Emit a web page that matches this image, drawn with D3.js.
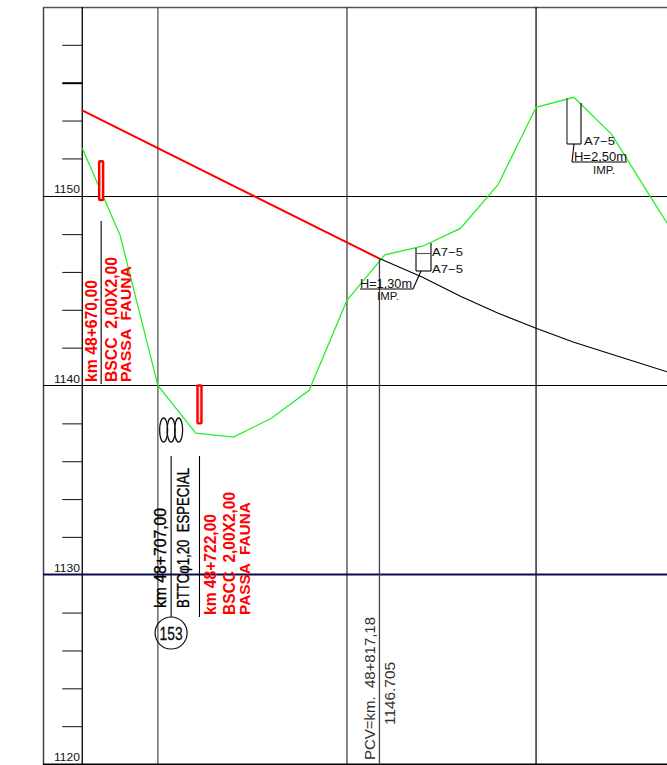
<!DOCTYPE html>
<html><head><meta charset="utf-8">
<script src="https://cdn.jsdelivr.net/npm/d3@7/dist/d3.min.js"></script>
<style>html,body{margin:0;padding:0;background:#fff;overflow:hidden}svg{display:block}
text{font-family:"Liberation Sans",sans-serif}</style></head><body>
<script>
const majorElevations=[1150,1140,1130,1120];
const minorElevations=[1158,1156,1154,1152,1148,1146,1144,1142,1138,1136,1134,1132,1128,1126,1124,1122];
const stationGrid=[660,700,800,900];
const groundKm=[660,680,700,720,740,760,780,800,808,820,840,860,880,900,920,940,960,970];
const groundElev=[1152.54,1147.94,1140,1137.48,1137.27,1138.27,1139.75,1144.5,1145.46,1146.9,1147.36,1148.3,1150.63,1154.7,1155.23,1153.27,1150.05,1148.47];
const gradeKm=[660,817.18];
const gradeElev=[1154.54,1146.705];
const curveKm=[817.18,840,860,880,900,920,940,960,970];
const curveElev=[1146.705,1145.72,1144.72,1143.82,1143.03,1142.29,1141.65,1141.02,1140.7];
const culvertKm=[670,722];
const culvertTop=[1151.85,1140];
const culvertBottom=[1149.8,1138];
const W=667,H=765;
const x=d3.scaleLinear().domain([639.4,969.3]).range([43.3,667.1]);
const y=d3.scaleLinear().domain([1120,1160]).range([764,7]);
const svg=d3.select("body").append("svg").attr("width",W).attr("height",H);
const line=(a,b)=>d3.line().x((d,i)=>x(a[i])).y((d,i)=>y(b[i]))(a);
const seg=(x1,y1,x2,y2,c="#000",w=1.1)=>svg.append("line").attr("x1",x1).attr("y1",y1).attr("x2",x2).attr("y2",y2).attr("stroke",c).attr("stroke-width",w);
// frame
seg(43.5,7,43.5,765,"#444",1.5);
seg(43,7.5,667,7.5,"#555",1.5);
// verticals
const gridColors={660:"#000",700:"#555",800:"#444",900:"#111"};
svg.selectAll(".v").data(stationGrid).join("line").attr("x1",d=>x(d)).attr("x2",d=>x(d)).attr("y1",7).attr("y2",764).attr("stroke",d=>gridColors[d]).attr("stroke-width",1.3);
// horizontal majors
svg.selectAll(".h").data(majorElevations).join("line").attr("x1",43).attr("x2",W).attr("y1",d=>Math.floor(y(d))+.5).attr("y2",d=>Math.floor(y(d))+.5)
 .attr("stroke",d=>d===1130?"#0a0a50":"#000").attr("stroke-width",d=>d===1130?1.8:d===1120?1.8:1.1);
// axis ticks
const ax=d3.axisLeft(y).tickValues(minorElevations).tickSize(20).tickFormat("");
const axG=svg.append("g").attr("transform",`translate(${x(660)},0)`).call(ax);
axG.select(".domain").remove();
axG.selectAll("line").attr("stroke",d=>d===1156?"#000":"#222").attr("stroke-width",d=>d===1156?2:1.1);
// axis labels
svg.selectAll(".lab").data(majorElevations).join("text").attr("x",54).attr("y",d=>y(d)-3).attr("font-size",11.5).attr("fill","#111")
 .attr("textLength",26).attr("lengthAdjust","spacingAndGlyphs").text(d=>d);
// ground, grade, curve
svg.append("path").attr("d",line(groundKm,groundElev)).attr("fill","none").attr("stroke","#1ff01f").attr("stroke-width",1.25);
svg.append("path").attr("d",line(curveKm,curveElev)).attr("fill","none").attr("stroke","#000").attr("stroke-width",1.1);
svg.append("path").attr("d",line(gradeKm,gradeElev)).attr("fill","none").attr("stroke","#f00").attr("stroke-width",2);
// culverts
svg.selectAll(".c").data(culvertKm).join("rect").attr("x",d=>x(d)-2).attr("width",4)
 .attr("y",(d,i)=>y(culvertTop[i])).attr("height",(d,i)=>y(culvertBottom[i])-y(culvertTop[i])).attr("rx",.8)
 .attr("fill","#fdd").attr("stroke","#f00").attr("stroke-width",2.4);
// leaders
seg(x(670),221,x(670),384);
seg(x(707),456,x(707),617);
seg(x(722),456,x(722),617);
// vertical text helper
function vt(str,bx,by,len,opt={}){
  const t=svg.append("text").attr("transform",`translate(${bx},${by}) rotate(-90)`).attr("font-size",opt.size||14)
   .attr("fill",opt.fill||"#000").attr("font-weight",opt.bold?"bold":"normal").style("white-space","pre").text(str);
  if(opt.stroke){t.attr("stroke",opt.fill||"#000").attr("stroke-width",opt.stroke);}
  if(len){t.attr("textLength",len).attr("lengthAdjust","spacingAndGlyphs");}
  return t;
}
function ht(str,bx,by,len,size=11){
  const t=svg.append("text").attr("x",bx).attr("y",by).attr("font-size",size).attr("fill","#111").style("white-space","pre").text(str);
  if(len){t.attr("textLength",len).attr("lengthAdjust","spacingAndGlyphs");}
}
const R="#f00";
vt("km 48+670,00",97,382,102,{size:16,bold:true,fill:R});
vt("BSCC  2,00X2,00",117,382,125,{size:16,bold:true,fill:R});
vt("PASSA  FAUNA",131,382,116,{size:15.5,bold:true,fill:R});
vt("km 48+707,00",166,608,100,{size:16,stroke:.35});
vt("BTTC\u03c61,20  ESPECIAL",189,608,140,{size:16,stroke:.35});
vt("km 48+722,00",216,615,101,{size:16,bold:true,fill:R});
vt("BSCC  2,00X2,00",235,615,123,{size:16,bold:true,fill:R});
vt("PASSA  FAUNA",250,615,113,{size:15.5,bold:true,fill:R});
vt("PCV=km.  48+817,18",375,760,143,{size:14.5,fill:"#333"});
vt("1146.705",395,725,63,{size:14.5,fill:"#333"});
// PCV vertical drop
seg(x(817.18),y(1146.705),x(817.18),764,"#444",1.3);
// pipe ellipses and number
[-7.5,0,7.5].forEach(o=>svg.append("ellipse").attr("cx",x(707)+o).attr("cy",430).attr("rx",4).attr("ry",12).attr("fill","none").attr("stroke","#111").attr("stroke-width",1.3));
svg.append("circle").attr("cx",x(707)).attr("cy",633).attr("r",16).attr("fill","none").attr("stroke","#111").attr("stroke-width",1.2);
svg.append("text").attr("x",x(707)).attr("y",639.5).attr("text-anchor","middle").attr("font-size",18).attr("fill","#111").attr("stroke","#111").attr("stroke-width",.35).attr("textLength",23).attr("lengthAdjust","spacingAndGlyphs").text("153");
// soil box 1
seg(416,248,416,271);seg(431,243,431,271);seg(416,271,431,271);seg(416,253.5,431,253.5,"#555");
seg(421,271,413,289);seg(413,289,360,289);
ht("A7\u22125",432,256,31,11.5);ht("A7\u22125",432,273,31,11.5);
ht("H=1,30m",360,288,52,12);ht("IMP.",377,300,22,11);
// soil box 2
seg(567,98,567,144,"#666",1.6);seg(581,103,581,144);seg(567,144,581,144);
seg(574,144,572,162);seg(572,162,627,162);
ht("A7\u22125",584,145,31,11.5);
ht("H=2,50m",574,161,53,12);ht("IMP.",593,174,22,11);
</script></body></html>
